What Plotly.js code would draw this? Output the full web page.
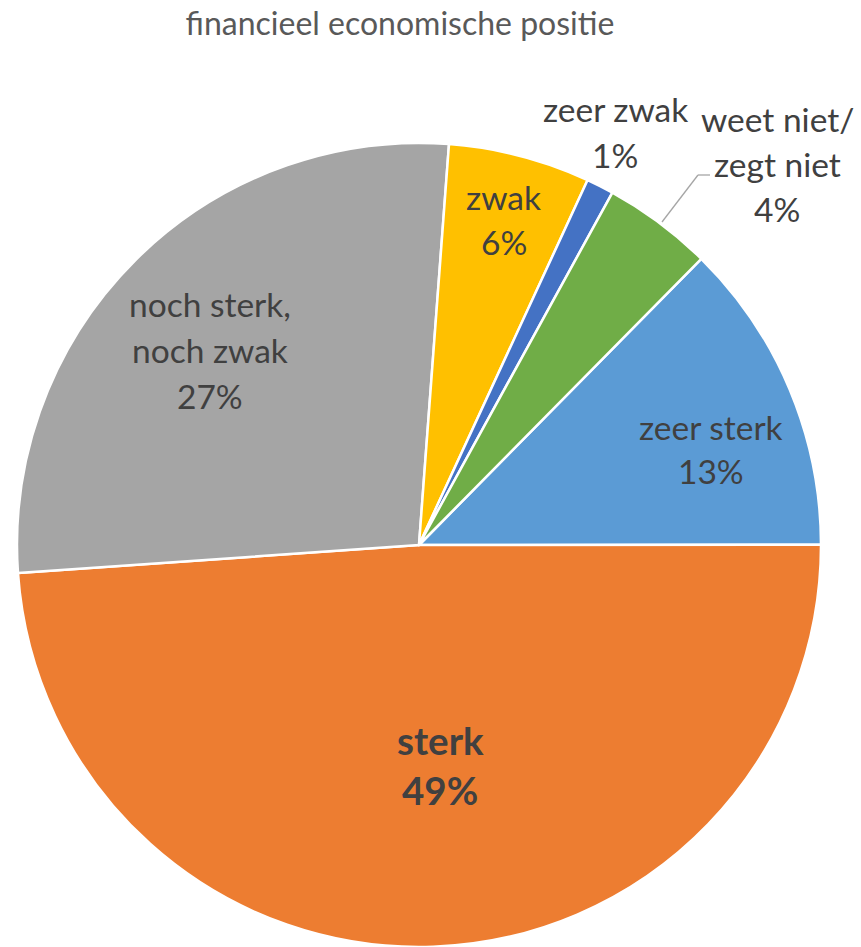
<!DOCTYPE html>
<html>
<head>
<meta charset="utf-8">
<script src="https://cdn.plot.ly/plotly-3.0.1.min.js"></script>
<style>html,body{margin:0;padding:0;background:#fff;}#chart{width:861px;height:947px;}</style>
</head>
<body>
<div id="chart"></div>
<script>
// ---- data ----
const chartTitle = "financieel economische positie";
const labels = ["zeer sterk", "sterk", "noch sterk, noch zwak", "zwak", "zeer zwak", "weet niet/ zegt niet"];
const values = [12.6, 48.9, 27.3, 5.7, 1.1, 4.4];
const labelLines = [["zeer sterk"], ["sterk"], ["noch sterk,", "noch zwak"], ["zwak"], ["zeer zwak"], ["weet niet/", "zegt niet"]];
const colors = ["#5B9BD5", "#ED7D31", "#A5A5A5", "#FFC000", "#4472C4", "#70AD47"];

// ---- layout helpers (pixel positions of label blocks) ----
const W = 861, H = 947;
const labelPos = [[711, 427, 44], [440, 740, 50], [210, 304, 46], [504, 197, 45], [615, 109, 46], [777, 119, 45]];
const labelSize = [33.5, 38.5, 33.5, 33.5, 33.5, 33.5];
const labelBold = [false, true, false, false, false, false];
const px = x => x / W;
const py = y => 1 - y / H;

const total = values.reduce((a, b) => a + b, 0);
const annotations = [];
labels.forEach((lab, i) => {
  const lines = labelLines[i].concat([Math.round(values[i] / total * 100) + "%"]);
  const [x0, y0, step] = labelPos[i];
  lines.forEach((t, k) => {
    annotations.push({
      x: px(x0), y: py(y0 + k * step), xref: "paper", yref: "paper",
      xanchor: "center", yanchor: "middle", showarrow: false,
      text: labelBold[i] ? "<b>" + t + "</b>" : t,
      font: {family: "Lato, 'Noto Sans', sans-serif", size: labelSize[i], color: "#404040"}
    });
  });
});

const trace = {
  type: "pie",
  labels: labels,
  values: values,
  sort: false,
  direction: "clockwise",
  rotation: 44.6,
  marker: {colors: colors, line: {color: "#FFFFFF", width: 2.5}},
  textinfo: "none",
  hoverinfo: "label+percent",
  showlegend: false,
  domain: {x: [17 / W, 821 / W], y: [0, 804 / H]}
};

const layout = {
  width: W, height: H,
  margin: {l: 0, r: 0, t: 0, b: 0},
  paper_bgcolor: "#FFFFFF",
  title: {text: chartTitle, x: 400 / W, xanchor: "center", y: 1 - 24 / H, yanchor: "middle",
          font: {family: "Lato, 'Noto Sans', sans-serif", size: 32, color: "#595959"}},
  annotations: annotations,
  shapes: [
    {type: "line", xref: "paper", yref: "paper", x0: px(662), y0: py(222), x1: px(698), y1: py(175), line: {color: "#A6A6A6", width: 1.3}},
    {type: "line", xref: "paper", yref: "paper", x0: px(698), y0: py(175), x1: px(710), y1: py(175), line: {color: "#A6A6A6", width: 1.3}}
  ]
};

Plotly.newPlot("chart", [trace], layout, {displayModeBar: false, staticPlot: true});
</script>
</body>
</html>
